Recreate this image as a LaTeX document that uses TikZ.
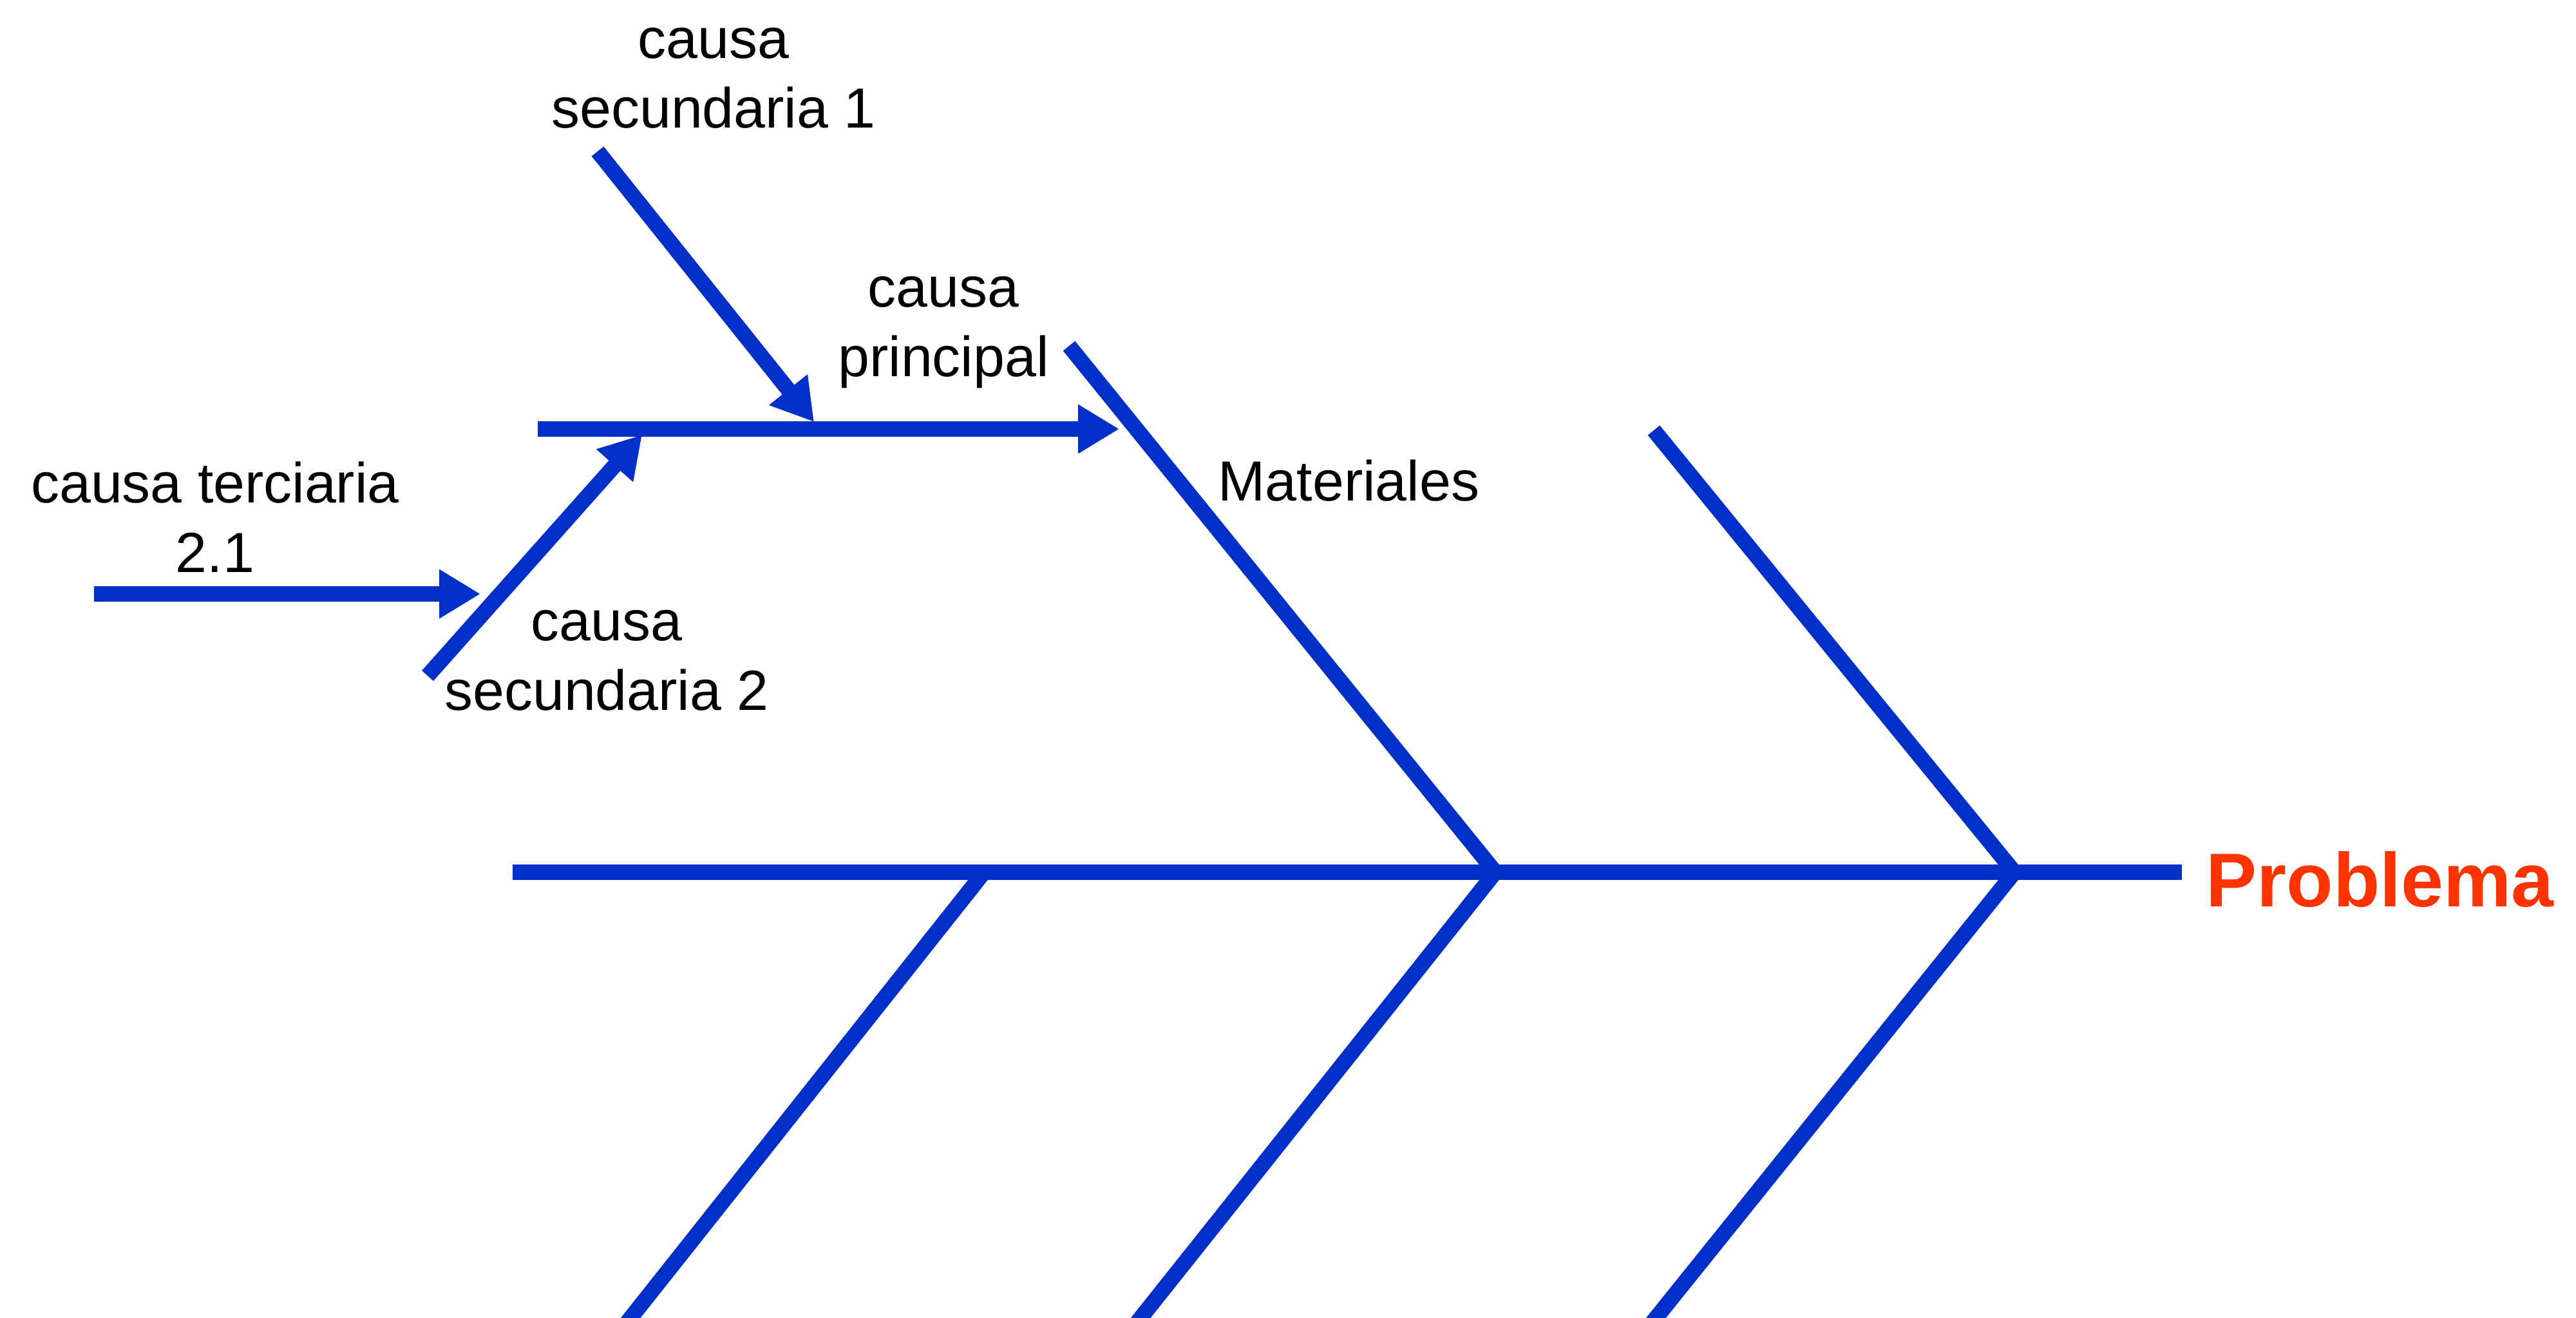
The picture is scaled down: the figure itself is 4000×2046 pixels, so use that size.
\documentclass[tikz,border=0pt]{standalone}
\usepackage{fontspec}
\setmainfont{Liberation Sans}
\usetikzlibrary{arrows.meta}
\definecolor{fishblue}{RGB}{0,48,200}
\definecolor{probred}{RGB}{255,51,0}
\tikzset{
  bone/.style={draw=fishblue, line width=2.4mm},
  causearrow/.style={draw=fishblue, line width=2.4mm, -{Triangle[length=6.4mm,width=7.2mm]}},
  lbl/.style={inner sep=0pt, align=center, anchor=base, text=black,
    font=\fontsize{25pt}{31pt}\selectfont},
  problbl/.style={inner sep=0pt, anchor=base west, text=probred,
    font=\fontsize{33.7pt}{40pt}\selectfont\bfseries},
}
\begin{document}
\begin{tikzpicture}[x=0.1mm, y=-0.1mm]
\useasboundingbox (0,0) rectangle (4000,2046);
\clip (0,0) rectangle (4000,2046);
\fill[white] (0,0) rectangle (4000,2046);
% spine
\coordinate (S0) at (796,1354);
\coordinate (S1) at (3388,1354);
\coordinate (J1) at (1528,1354);
\coordinate (J2) at (2322,1354);
\coordinate (J3) at (3128,1354);
\coordinate (U2) at (1660,537);
\coordinate (U3) at (2568,668);
\coordinate (L1) at (968,2060);
\coordinate (L2) at (1760,2060);
\coordinate (L3) at (2560,2060);
% causes
\coordinate (M0) at (835,666);
\coordinate (M1) at (1738,666);
\coordinate (A0) at (928,235);
\coordinate (A1) at (1264,655);
\coordinate (B0) at (664,1049);
\coordinate (B1) at (997,675);
\coordinate (T0) at (146,922);
\coordinate (T1) at (746,922);

\draw[bone] (S0) -- (S1);
\draw[bone] (U2) -- (J2);
\draw[bone] (U3) -- (J3);
\draw[bone] (J1) -- (L1);
\draw[bone] (J2) -- (L2);
\draw[bone] (J3) -- (L3);

\draw[causearrow] (M0) -- (M1);
\draw[causearrow] (A0) -- (A1);
\draw[causearrow] (B0) -- (B1);
\draw[causearrow] (T0) -- (T1);

% base anchor of a multi-line node = baseline of its last line
\node[lbl] (sec1) at (1108,199) {causa\\secundaria 1};
\node[lbl] (princ) at (1465,585) {causa\\principal};
\node[lbl] (terc) at (334,889) {causa terciaria\\2.1};
\node[lbl] (sec2) at (942,1103) {causa\\secundaria 2};
\node[lbl, anchor=base west] (mat) at (1891,778) {Materiales};
\node[problbl] (prob) at (3425,1407) {Problema};
\end{tikzpicture}
\end{document}
